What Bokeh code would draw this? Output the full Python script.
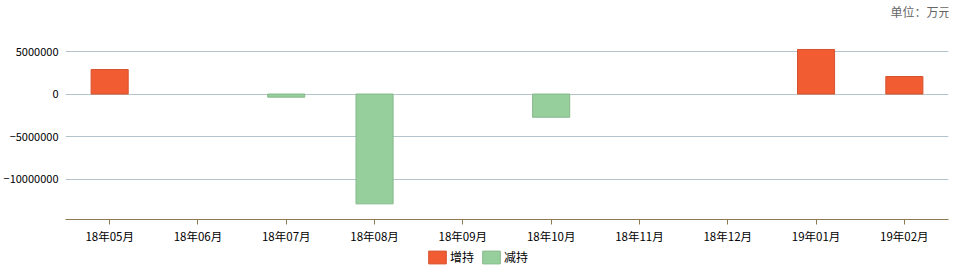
from bokeh.plotting import figure
from bokeh.layouts import column
from bokeh.models import (FactorRange, Range1d, FixedTicker, BasicTickFormatter,
                          Legend, LegendItem, ColumnDataSource, Label)
from bokeh.embed import file_html
from bokeh.resources import INLINE

months = ["18年05月", "18年06月", "18年07月", "18年08月", "18年09月",
          "18年10月", "18年11月", "18年12月", "19年01月", "19年02月"]
nan = float("nan")
increase = [2880000, nan, nan, nan, nan, nan, nan, nan, 5240000, 2060000]
decrease = [nan, nan, -370000, -12920000, nan, -2730000, nan, nan, nan, nan]
y_ticks = [-10000000, -5000000, 0, 5000000]
unit_text = "单位：万元"
series_names = ["增持", "减持"]

FONT = "Noto Sans CJK SC"
RED, RED_LINE = "#f25c33", "#d4532e"
GREEN, GREEN_LINE = "#97cf9c", "#86b88b"

p = figure(width=959, height=248, x_range=FactorRange(*months),
           y_range=Range1d(-14760000, 11000000),
           output_backend="svg", toolbar_location=None)
p.min_border_left = 65
p.min_border_right = 11
p.min_border_top = 0
p.min_border_bottom = 29
p.outline_line_color = None
p.background_fill_color = "white"
p.border_fill_color = "white"

src = ColumnDataSource(dict(x=months, inc=increase, dec=decrease))
p.vbar(x="x", top="inc", bottom=0, width=0.42, source=src,
       fill_color=RED, line_color=RED_LINE, line_width=1)
p.vbar(x="x", top="dec", bottom=0, width=0.42, source=src,
       fill_color=GREEN, line_color=GREEN_LINE, line_width=1)

# axes
p.xgrid.grid_line_color = None
p.ygrid.grid_line_color = "#b3c4cc"
p.ygrid.grid_line_width = 1
p.yaxis.ticker = FixedTicker(ticks=y_ticks)
p.yaxis.formatter = BasicTickFormatter(use_scientific=False)
p.yaxis.axis_line_color = None
p.yaxis.major_tick_line_color = None
p.yaxis.minor_tick_line_color = None
p.yaxis.major_tick_out = 0
p.yaxis.major_tick_in = 0
p.yaxis.minor_tick_out = 0
p.yaxis.major_label_standoff = 7
p.yaxis.major_label_text_font = FONT
p.yaxis.major_label_text_font_size = "11px"
p.yaxis.major_label_text_color = "#000000"

p.xaxis.axis_line_color = "#8f7a4f"
p.xaxis.major_tick_line_color = "#8f7a4f"
p.xaxis.major_tick_out = 5
p.xaxis.major_tick_in = 0
p.xaxis.major_label_standoff = 3
p.xaxis.major_label_text_font = FONT
p.xaxis.major_label_text_font_size = "11.5px"
p.xaxis.major_label_text_color = "#000000"

unit = Label(x=885, y=208, x_units="screen", y_units="screen", text=unit_text,
             text_align="right", text_baseline="middle", text_font=FONT,
             text_font_size="12px", text_color="#666666")
p.add_layout(unit)

# legend strip
p2 = figure(width=959, height=30, x_range=Range1d(0, 1), y_range=Range1d(0, 1),
            output_backend="svg", toolbar_location=None,
            x_axis_location=None, y_axis_location=None)
p2.min_border_left = 0
p2.min_border_right = 0
p2.min_border_top = 0
p2.min_border_bottom = 0
p2.outline_line_color = None
p2.xgrid.grid_line_color = None
p2.ygrid.grid_line_color = None
dummy = ColumnDataSource(dict(x=[nan], top=[nan]))
g1 = p2.vbar(x="x", top="top", width=1, source=dummy,
             fill_color=RED, line_color=RED_LINE)
g2 = p2.vbar(x="x", top="top", width=1, source=dummy,
             fill_color=GREEN, line_color=GREEN_LINE)
legend = Legend(items=[LegendItem(label=series_names[0], renderers=[g1]),
                       LegendItem(label=series_names[1], renderers=[g2])],
                orientation="horizontal", location=(361, 13),
                glyph_width=22, glyph_height=16, label_standoff=2, spacing=6,
                padding=0, margin=0, border_line_color=None,
                background_fill_alpha=0,
                label_text_font=FONT, label_text_font_size="12px",
                label_text_color="#000000")
p2.add_layout(legend, "center")

layout = column(p, p2, spacing=0)
open("out.html", "w").write(file_html(layout, INLINE))
